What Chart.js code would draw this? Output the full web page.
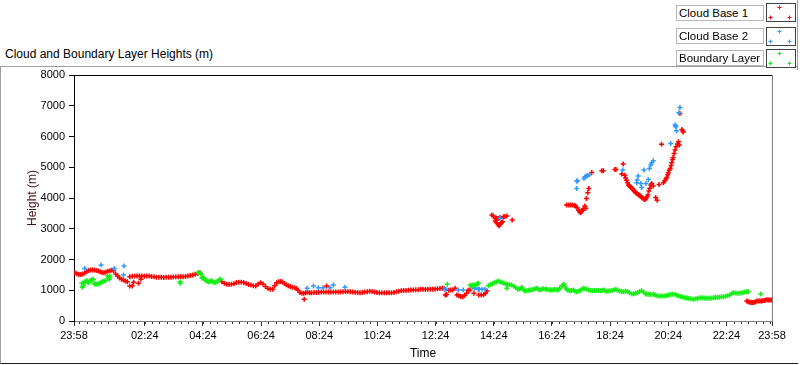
<!DOCTYPE html>
<html>
<head>
<meta charset="utf-8">
<script src="https://cdn.jsdelivr.net/npm/chart.js@4.4.0/dist/chart.umd.min.js"></script>
<style>
  body { margin: 0; background: #fff; font-family: "Liberation Sans", Arial, sans-serif; }
  #wrap { position: relative; width: 800px; height: 365px; overflow: hidden; }
  #frame { position: absolute; left: 0; top: 66px; width: 797px; height: 296px;
           border-left: 1px solid #a0a0a0; border-top: 1px solid #a0a0a0; border-bottom: 1px solid #202020; }
  #edge { position: absolute; left: 797px; top: 0; width: 1px; height: 70px; background: #a0a0a0; }
  #title { position: absolute; left: 5px; top: 47px; font-size: 12px; color: #000; }
  canvas { position: absolute; left: 0; top: 0; }
  .lab { position: absolute; left: 676px; width: 84px; height: 14px; border: 1px solid #b8b8b8;
         background: #fff; font-size: 11.5px; line-height: 14px; padding-left: 2px; color: #000; white-space: nowrap; overflow: hidden; }
  .ico { position: absolute; left: 766px; width: 28px; height: 17px; border: 1px solid #404040; background: #fff; }
</style>
</head>
<body>
<div id="wrap">
  <div id="frame"></div>
  <div id="edge"></div>
  <div id="title">Cloud and Boundary Layer Heights (m)</div>
  <canvas id="chart" width="800" height="365"></canvas>
  <div id="legend"></div>
</div>
<script>
// time axis: minutes after 23:58
const xTickValues = [0, 146, 266, 386, 506, 626, 746, 866, 986, 1106, 1226, 1346, 1440];
const xTickLabels = ['23:58', '02:24', '04:24', '06:24', '08:24', '10:24', '12:24',
                     '14:24', '16:24', '18:24', '20:24', '22:24', '23:58'];
const yTickValues = [0, 1000, 2000, 3000, 4000, 5000, 6000, 7000, 8000];

const seriesNames = ['Cloud Base 1', 'Cloud Base 2', 'Boundary Layer'];
const seriesColors = ['#ff0000', '#3399ff', '#14ee14'];

// [minutes after 23:58, height m]
const cloudBase1 = [
  [2,1570],[6,1540],[10,1510],[14,1515],[18,1525],[22,1560],[26,1600],[30,1640],[34,1655],[38,1660],
  [42,1655],[46,1640],[50,1625],[54,1600],[58,1575],[62,1570],[66,1590],[70,1615],[74,1635],[78,1650],
  [82,1640],[86,1530],[90,1460],[94,1400],[98,1360],[102,1330],[106,1300],[110,1275],
  [115,1137],[120,1137],[123,1257],[133,1224],[138,1354],
  [115,1440],[120,1455],[125,1462],[130,1465],[135,1462],[140,1460],[145,1455],[150,1462],[155,1465],
  [160,1450],[165,1435],[170,1425],[175,1420],[180,1420],[185,1415],[190,1420],[195,1425],[200,1420],
  [205,1430],[210,1440],[215,1440],[220,1445],[225,1440],[230,1450],[235,1462],[240,1480],[245,1500],
  [250,1520],[255,1545],[260,1570],
  [305,1278],[310,1230],[315,1192],[320,1190],[325,1192],[330,1215],[335,1250],[340,1257],[345,1257],
  [350,1250],[355,1220],[360,1185],[365,1170],[370,1150],[375,1137],[380,1200],[385,1240],[390,1200],
  [395,1120],[400,1060],[405,1030],[410,1030],[414,1150],[418,1240],[422,1280],[426,1285],[430,1270],
  [434,1220],[438,1180],[442,1150],[446,1120],[450,1100],[455,1080],[459,1060],[462,1000],[466,930],
  [470,900],[474,900],[475,704],[478,920],[482,935],[486,920],[490,920],[495,925],[500,930],[505,935],
  [510,940],[515,940],[520,943],[521,1137],[525,945],[530,940],[535,945],[540,943],[545,940],[550,943],
  [555,950],[560,960],[565,960],[570,950],[575,943],[580,935],[585,925],[590,921],[595,925],[600,940],
  [605,955],[610,965],[615,960],[620,945],[625,930],[630,921],[635,920],[640,918],[645,918],[650,920],
  [655,921],[660,930],[665,950],[670,970],[675,985],[680,990],[685,995],[690,1000],[695,1005],[700,1010],
  [705,1015],[710,1020],[715,1030],[720,1030],[725,1028],[730,1030],[735,1030],[740,1035],[745,1040],
  [750,1050],[755,1055],[760,1062],
  [764,1050],[766,845],[769,860],[773,1000],[777,1007],[781,1010],[786,1062],[790,845],[794,820],
  [798,800],[802,790],[806,830],[810,900],[813,1000],[817,1007],[825,900],[835,845],[840,845],[845,850],
  [849,900],[852,975],
  [862,3445],[865,3412],[869,3337],[872,3340],[875,3337],[879,3369],[886,3391],[889,3400],[893,3412],
  [869,3250],[872,3196],[875,3142],[877,3087],[879,3152],[882,3196],[884,3228],[904,3282],
  [1016,3770],[1020,3770],[1024,3775],[1028,3770],[1032,3760],[1035,3740],[1038,3680],[1041,3600],
  [1043,3550],[1045,3520],[1047,3560],[1049,3600],[1051,3650],[1054,3737],[1056,3663],[1057,3987],
  [1060,4170],[1062,4312],[1068,4832],[1089,4885],[1092,4885],[1116,4930],[1118,4930],[1130,4777],
  [1133,5102],[1136,4740],[1138,4650],[1140,4580],[1142,4500],[1144,4420],[1146,4390],[1148,4360],
  [1150,4340],[1152,4300],[1154,4260],[1156,4220],[1158,4190],[1160,4160],[1162,4140],[1164,4110],
  [1166,4090],[1168,4070],[1170,4040],[1172,4010],[1174,3990],[1176,3960],[1178,3950],[1180,3980],
  [1182,4030],[1184,4100],[1186,4230],[1188,4320],[1190,4420],[1192,4475],[1195,4390],[1200,4020],
  [1203,3930],[1207,4440],[1212,5752],[1216,4500],[1219,4560],[1221,4620],[1223,4670],[1225,4760],
  [1226,4820],[1228,4900],[1230,4960],[1232,5060],[1233,5145],[1235,5250],[1236,5320],[1238,5450],
  [1240,5560],[1242,5665],[1245,5760],[1247,5830],[1249,5720],[1250,6750],[1254,6230],[1256,6180],
  [1257,6150],
  [1388,650],[1391,630],[1394,610],[1397,600],[1400,598],[1403,605],[1406,630],[1409,650],[1412,650],
  [1415,650],[1418,652],[1421,655],[1424,670],[1427,682],[1430,690],[1433,682],[1436,682],[1439,680]
];

const cloudBase2 = [
  [22,1711],[56,1820],[83,1711],[102,1495],[103,1787],
  [481,1062],[494,1137],[504,1083],[514,1083],[528,1083],[535,1170],[559,1094],
  [765,1029],[767,1029],[793,1007],[803,1007],[826,1062],[827,1083],[834,1029],[836,1029],[842,1029],[848,1029],
  [879,3340],
  [1037,4550],[1039,4550],[1037,4312],[1052,4637],[1054,4680],[1057,4712],[1059,4730],[1063,4745],
  [1132,4907],[1161,4495],[1162,4582],[1164,4712],[1169,4475],[1171,4345],[1176,4907],[1180,4475],
  [1185,4605],[1187,4962],[1190,5070],[1192,5145],[1195,5210],
  [1231,5775],[1240,6370],[1241,6340],[1242,6315],[1243,6185],[1248,6770],[1250,6945]
];

const boundaryLayer = [
  [16,1224],[17,1094],[19,1150],[21,1260],[23,1278],[26,1311],[28,1280],[30,1246],[33,1311],[36,1332],
  [38,1340],[40,1354],[42,1202],[44,1200],[47,1202],[50,1205],[53,1230],[56,1260],[59,1278],[62,1300],
  [65,1311],[69,1462],[71,1400],[73,1354],[74,1462],
  [219,1278],[219,1224],
  [256,1570],[258,1575],[260,1560],[262,1527],[264,1387],[266,1419],[268,1400],[270,1360],[272,1311],
  [275,1290],[278,1278],[281,1290],[284,1311],[287,1278],[290,1246],[293,1265],[296,1290],[299,1330],
  [302,1354],
  [770,1192],[817,1160],[820,1148],[823,1170],[826,1160],[829,1180],[832,1200],[834,1230],
  [855,1148],[859,1190],[863,1215],[867,1240],[871,1270],[875,1300],[879,1280],[883,1255],[887,1225],
  [891,1200],[893,1062],[895,1190],[899,1180],[903,1170],[907,1130],[911,1090],[915,1040],[918,1029],
  [921,1060],[924,1094],[927,1030],[930,975],[934,985],[938,1000],[941,1007],[945,1020],[948,1029],
  [952,1045],[955,1062],[958,1030],[961,1007],[965,1030],[968,1051],[972,1040],[975,1029],[979,1020],
  [983,1010],[986,1007],[989,1020],[992,1029],[996,1015],[999,1007],[1002,1060],[1006,1137],[1009,1170],
  [1011,1192],[1013,1110],[1016,1029],[1019,1000],[1023,986],[1026,995],[1030,1007],[1033,975],[1037,953],
  [1040,965],[1044,986],[1047,1030],[1051,1062],[1054,1045],[1058,1029],[1062,1005],[1066,990],[1070,986],
  [1074,990],[1078,986],[1082,990],[1086,986],[1090,1000],[1094,1007],[1098,960],[1102,975],[1106,986],
  [1110,995],[1114,1010],[1118,1029],[1122,1000],[1126,970],[1130,960],[1134,955],[1138,965],[1142,960],
  [1146,920],[1151,877],[1155,890],[1159,905],[1163,930],[1167,960],[1171,986],[1175,940],[1179,890],
  [1182,867],[1186,870],[1190,865],[1195,867],[1199,845],[1203,820],[1207,812],[1211,815],[1215,810],
  [1219,812],[1223,830],[1227,845],[1231,860],[1235,867],[1240,867],[1244,840],[1248,815],[1252,795],
  [1256,780],[1260,760],[1264,745],[1267,737],[1271,725],[1275,715],[1279,704],[1283,720],[1287,740],
  [1292,758],[1296,750],[1300,745],[1304,740],[1308,738],[1312,737],[1316,745],[1320,755],[1324,765],
  [1328,770],[1332,775],[1336,785],[1340,791],[1344,805],[1348,820],[1352,840],[1356,880],[1360,921],
  [1364,910],[1368,900],[1372,899],[1376,910],[1380,930],[1384,945],[1388,953],[1391,953],
  [1417,877]
];

const minorStep = 15;

// legend boxes (LabVIEW style)
const legend = document.getElementById('legend');
const labTops = [5, 28, 50];
const icoTops = [3, 27, 49];
seriesNames.forEach((name, i) => {
  const lab = document.createElement('div');
  lab.className = 'lab';
  lab.style.top = labTops[i] + 'px';
  lab.textContent = name;
  legend.appendChild(lab);
  const ico = document.createElement('div');
  ico.className = 'ico';
  ico.style.top = icoTops[i] + 'px';
  const c = seriesColors[i];
  ico.innerHTML = '<svg width="28" height="17">' +
    [[12.5, 3.5], [3.5, 13.5], [22.5, 13.5]].map(p =>
      `<path d="M${p[0] - 2} ${p[1]}h4M${p[0]} ${p[1] - 2}v4" stroke="${c}" stroke-width="1"/>`).join('') +
    '</svg>';
  legend.appendChild(ico);
});

const toPoints = arr => arr.map(p => ({ x: p[0], y: p[1] }));
const allSeries = [cloudBase1, cloudBase2, boundaryLayer];

const framePlugin = {
  id: 'frame',
  afterDraw(chart) {
    const { ctx, chartArea: a } = chart;
    const xs = chart.scales.x;
    ctx.save();
    ctx.lineWidth = 1;
    ctx.strokeStyle = '#000';
    ctx.beginPath();
    ctx.moveTo(a.left, a.top + 0.5);
    ctx.lineTo(a.right, a.top + 0.5);
    ctx.stroke();
    ctx.strokeStyle = '#808080';
    ctx.beginPath();
    ctx.moveTo(a.right + 0.5, a.top);
    ctx.lineTo(a.right + 0.5, a.bottom);
    ctx.stroke();
    // minor time ticks
    ctx.strokeStyle = '#303030';
    ctx.beginPath();
    for (let t = xTickValues[1] % minorStep; t < 1440; t += minorStep) {
      const px = Math.round(xs.getPixelForValue(t)) + 0.5;
      ctx.moveTo(px, a.bottom + 1);
      ctx.lineTo(px, a.bottom + 3);
    }
    ctx.stroke();
    ctx.restore();
  }
};

new Chart(document.getElementById('chart'), {
  type: 'scatter',
  data: {
    datasets: allSeries.map((s, i) => ({
      label: seriesNames[i],
      data: toPoints(s),
      pointStyle: 'cross',
      pointRadius: 2.5,
      pointBorderWidth: 1.5,
      borderColor: seriesColors[i],
      backgroundColor: seriesColors[i],
      order: 2 - i
    }))
  },
  options: {
    responsive: false,
    animation: false,
    events: [],
    layout: { padding: { top: 75, right: 28, left: 0, bottom: 0 } },
    plugins: { legend: { display: false }, tooltip: { enabled: false } },
    scales: {
      x: {
        type: 'linear',
        min: 0,
        max: 1440,
        afterBuildTicks: s => { s.ticks = xTickValues.map(v => ({ value: v })); },
        afterFit: s => { s.height = 44; },
        ticks: {
          autoSkip: false,
          maxRotation: 0,
          padding: 3,
          color: '#000',
          font: { family: 'Liberation Sans', size: 11 },
          callback: v => xTickLabels[xTickValues.indexOf(v)]
        },
        grid: { drawOnChartArea: false, tickLength: 5, color: '#303030' },
        border: { color: '#808080' },
        title: {
          display: true, text: 'Time', color: '#000',
          font: { family: 'Liberation Sans', size: 12 },
          padding: { top: 0, bottom: 4 }
        }
      },
      y: {
        min: 0,
        max: 8000,
        afterBuildTicks: s => { s.ticks = yTickValues.map(v => ({ value: v })); },
        afterFit: s => { s.width = 74; },
        ticks: {
          padding: 4,
          color: '#000',
          font: { family: 'Liberation Sans', size: 11 },
          callback: v => String(v)
        },
        grid: { drawOnChartArea: false, tickLength: 5, color: '#000' },
        border: { color: '#000' },
        title: {
          display: true, text: 'Height (m)', color: '#4a1010',
          font: { family: 'Liberation Sans', size: 12 },
          padding: { top: 25, bottom: 0 }
        }
      }
    }
  },
  plugins: [framePlugin]
});
</script>
</body>
</html>
